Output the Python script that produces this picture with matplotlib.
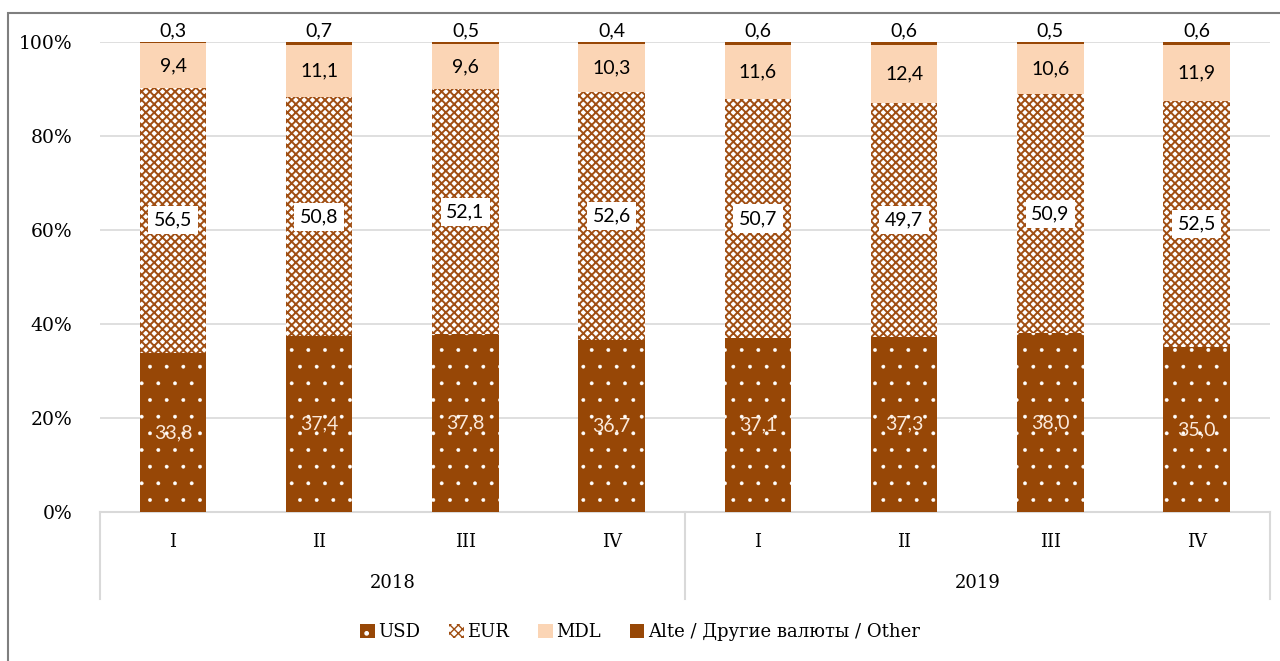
import matplotlib.pyplot as plt
from matplotlib.patches import Rectangle
import numpy as np

# data (share of deposits by currency, %)
quarters = ["I", "II", "III", "IV", "I", "II", "III", "IV"]
years = ["2018", "2019"]
usd = [33.8, 37.4, 37.8, 36.7, 37.1, 37.3, 38.0, 35.0]
eur = [56.5, 50.8, 52.1, 52.6, 50.7, 49.7, 50.9, 52.5]
mdl = [9.4, 11.1, 9.6, 10.3, 11.6, 12.4, 10.6, 11.9]
other = [0.3, 0.7, 0.5, 0.4, 0.6, 0.6, 0.5, 0.6]
series_names = ["USD", "EUR", "MDL", "Alte / Другие валюты / Other"]

brown = "#974706"
peach = "#FBD5B5"
serif = "DejaVu Serif"
sans = "Lato"

fmt = lambda v: f"{v:.1f}".replace(".", ",")

fig = plt.figure(figsize=(12.8, 6.61), dpi=100)
ax = fig.add_axes([0.078, 0.2254, 0.914, 0.7111])

x = np.arange(len(quarters))
w = 0.455
usd = np.array(usd); eur = np.array(eur); mdl = np.array(mdl); other = np.array(other)

with plt.rc_context({'hatch.linewidth': 0.3}):
    b_usd = ax.bar(x, usd, w, color=brown, edgecolor="white", hatch=".", linewidth=0, zorder=3)
with plt.rc_context({'hatch.linewidth': 1.4}):
    b_eur = ax.bar(x, eur, w, bottom=usd, color="white", edgecolor="#A04E12", hatch="xxxx",
                   linewidth=0, zorder=3)
b_mdl = ax.bar(x, mdl, w, bottom=usd + eur, color=peach, linewidth=0, zorder=3)
b_oth = ax.bar(x, other, w, bottom=usd + eur + mdl, color=brown, linewidth=0, zorder=3)

for i in x:
    ax.text(i, usd[i] / 2, fmt(usd[i]), ha="center", va="center", color="#FBE9DA",
            fontsize=14, family=sans, zorder=5)
    ax.text(i, usd[i] + eur[i] / 2, fmt(eur[i]), ha="center", va="center", color="black",
            fontsize=14, family=sans, zorder=5,
            bbox=dict(facecolor="white", edgecolor="none", pad=4))
    ax.text(i, usd[i] + eur[i] + mdl[i] / 2, fmt(mdl[i]), ha="center", va="center",
            color="black", fontsize=14, family=sans, zorder=5)
    ax.text(i, 100.6, fmt(other[i]), ha="center", va="bottom", color="black",
            fontsize=14, family=sans, zorder=5)

ax.set_xlim(-0.5, len(quarters) - 0.5)
ax.set_ylim(0, 100)
ax.set_yticks(np.arange(0, 101, 20))
ax.set_yticklabels([f"{v}%" for v in range(0, 101, 20)], family=serif, fontsize=13.5)
ax.tick_params(axis="y", length=0, pad=20)
ax.set_xticks(x)
ax.set_xticklabels(quarters, family=serif, fontsize=13)
ax.tick_params(axis="x", length=0, pad=15)
ax.grid(axis="y", color="#D9D9D9", linewidth=1.2, zorder=0)
for s in ["top", "right", "left"]:
    ax.spines[s].set_visible(False)
ax.spines["bottom"].set_color("#D9D9D9")
ax.spines["bottom"].set_linewidth(1.5)

# year group labels and separators
trans = ax.get_xaxis_transform()
for k, yr in enumerate(years):
    ax.text(1.5 + 4 * k, -0.15, yr, transform=trans, ha="center", va="center",
            family=serif, fontsize=13)
for xs in [-0.5, 3.5, 7.5]:
    ax.plot([xs, xs], [0, -0.185], transform=trans, color="#D9D9D9", linewidth=1.5, clip_on=False)

handles = [b_usd, b_eur, b_mdl, b_oth]
fig.legend(handles, series_names, loc="center", bbox_to_anchor=(0.5, 1 - 632 / 661), ncol=4,
           frameon=False, prop={"family": serif, "size": 13}, handlelength=0.8, handleheight=0.8,
           handletextpad=0.2, columnspacing=1.6)

# outer chart border
fig.patches.append(Rectangle((8 / 1280, -0.01), 1.0, 1 - 13 / 661 + 0.01, transform=fig.transFigure,
                             fill=False, edgecolor="#7F7F7F", linewidth=1.5))

fig.savefig("out.png", dpi=100)
